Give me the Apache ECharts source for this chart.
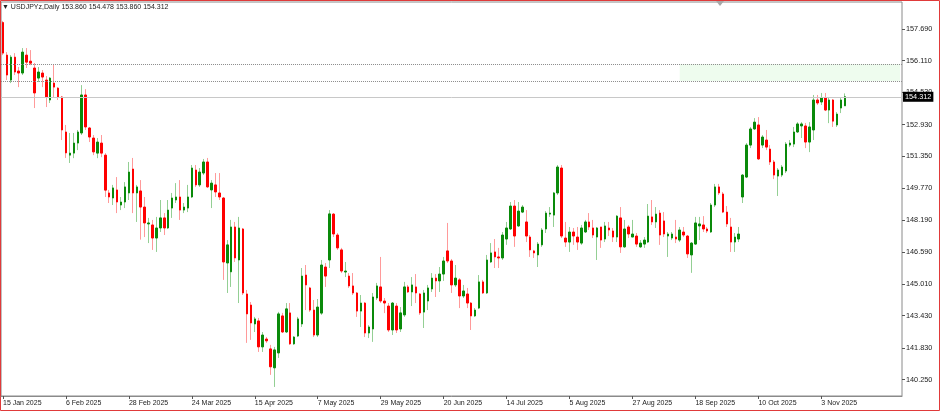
<!DOCTYPE html>
<html><head><meta charset="utf-8">
<script src="https://cdn.jsdelivr.net/npm/echarts@6/dist/echarts.min.js"></script>
<style>html,body{margin:0;padding:0;background:#fff}#c{width:940px;height:411px}</style>
</head><body><div id="c"></div>
<script>
const symbolName = 'USDJPYz,Daily';
const opens = [158.00,156.38,155.14,156.28,155.59,155.49,156.38,156.08,155.74,155.24,155.49,155.14,154.15,154.99,154.74,154.30,152.56,151.41,151.51,152.01,
152.51,154.40,152.76,152.26,151.51,152.01,151.41,149.53,149.28,149.68,148.93,149.08,149.53,150.72,149.53,149.63,148.83,147.99,147.94,147.29,
147.79,148.29,147.79,148.78,149.18,149.33,148.68,148.78,149.33,150.67,149.93,150.52,151.07,149.68,149.93,149.53,149.28,146.05,145.61,147.84,
146.20,147.74,144.51,143.96,143.02,143.17,141.88,142.27,141.78,140.84,141.58,143.42,142.62,143.57,142.03,142.42,143.02,145.45,144.81,143.71,
142.47,143.56,145.85,146.20,148.48,147.44,146.70,145.60,145.40,144.91,144.56,143.66,144.06,142.57,142.77,144.31,144.86,144.16,143.91,142.72,
143.91,142.77,143.47,144.86,144.61,144.86,144.51,143.61,144.16,144.76,145.30,145.16,145.50,146.65,146.15,144.96,145.21,144.41,144.51,144.06,
143.42,143.81,145.11,144.56,146.10,146.60,146.35,146.30,147.24,147.74,148.88,147.89,148.58,148.09,147.34,146.65,146.45,146.95,147.74,148.48,
148.43,149.53,150.77,147.29,147.09,147.59,147.34,147.04,147.59,148.09,147.79,147.34,147.84,147.24,147.79,147.64,147.34,148.29,146.85,147.84,
147.34,147.39,146.85,146.99,147.09,148.34,148.09,148.53,148.14,147.39,147.29,147.34,147.19,147.59,147.39,146.45,146.99,147.89,147.94,147.74,
147.59,148.93,149.83,149.48,148.58,147.84,147.09,147.24,149.33,150.32,151.91,152.71,152.91,151.91,152.16,151.71,151.07,150.37,150.42,150.62,
151.91,151.96,152.56,152.86,152.86,152.06,152.66,154.15,154.05,154.25,153.65,154.15,152.91,153.75,153.860];
const highs = [158.08,156.53,156.38,156.48,155.79,156.73,156.73,156.63,155.99,155.79,155.64,155.34,155.29,155.89,154.79,154.35,152.91,152.51,152.51,152.66,
154.89,154.69,152.81,152.41,152.26,152.41,151.51,149.68,149.93,150.32,149.33,150.07,151.07,151.27,149.93,150.17,149.33,148.29,148.19,148.34,
149.18,148.53,149.18,149.53,150.02,150.17,149.03,149.93,150.92,150.92,150.77,151.22,151.27,150.17,150.52,150.52,149.33,147.19,148.19,148.09,
148.34,147.79,144.71,144.11,143.37,143.32,142.62,142.37,141.98,141.88,143.62,143.57,144.06,144.06,142.42,143.37,145.80,145.95,144.86,144.21,
144.26,146.20,146.05,148.68,148.53,147.54,146.80,146.10,145.55,145.55,144.61,144.46,144.11,142.96,144.56,145.06,146.35,144.31,144.06,144.11,
144.06,143.86,145.11,144.96,145.35,145.50,144.56,144.71,144.96,145.55,145.50,145.85,146.35,148.04,146.25,145.95,145.30,144.96,144.81,144.11,
143.81,145.45,145.21,146.45,147.04,147.24,146.80,147.59,148.09,149.08,149.18,149.08,148.93,148.68,147.44,146.70,147.09,147.79,148.63,148.83,
149.58,150.92,150.92,148.09,147.84,147.79,147.84,147.94,148.19,148.53,148.19,147.84,147.84,148.09,148.09,147.79,148.43,148.83,148.19,147.94,
148.19,147.54,147.19,147.34,148.98,149.18,148.83,148.68,148.58,147.59,147.59,148.19,147.84,147.84,147.44,147.09,148.34,148.34,148.38,147.84,
149.03,149.98,149.98,149.58,148.88,148.29,147.54,147.84,150.47,152.01,152.81,153.25,153.30,152.41,152.66,151.91,151.17,150.77,150.92,152.06,
152.16,152.81,153.05,153.05,153.01,153.05,154.40,154.40,154.50,154.50,154.30,154.20,153.55,154.25,154.478];
const lows = [156.38,155.14,154.99,155.39,154.79,155.39,155.74,155.88,153.75,155.04,154.79,153.80,154.00,154.30,154.15,152.16,151.27,151.02,151.26,151.66,
152.41,152.66,152.06,151.41,151.26,151.31,149.33,149.03,148.93,148.53,148.68,148.78,149.18,148.53,148.09,147.21,147.34,147.04,146.70,146.60,
147.59,147.44,147.74,148.29,149.03,148.19,148.53,148.58,149.28,149.83,149.83,150.42,149.78,148.78,149.33,149.18,145.21,144.56,144.86,146.10,
144.06,144.46,142.08,142.23,142.62,141.63,141.63,142.08,140.49,139.89,141.33,142.57,142.57,141.98,141.98,142.37,142.87,143.71,143.62,142.37,
142.37,143.47,144.86,145.80,147.34,146.70,145.55,145.35,144.81,144.46,143.37,142.87,142.37,142.32,142.13,144.21,144.06,143.56,142.62,142.47,
142.57,142.62,143.37,144.56,143.91,144.06,143.47,142.82,143.71,144.61,144.36,144.61,145.16,146.05,144.56,144.86,143.81,144.31,143.81,142.72,
143.37,143.76,144.51,144.51,146.05,145.80,145.80,146.20,146.95,147.69,146.85,147.84,148.53,147.09,146.35,146.30,145.85,146.85,147.54,148.34,
147.84,149.43,147.29,146.85,146.60,146.95,146.70,146.95,147.54,147.69,147.29,146.20,146.80,147.09,147.39,147.09,147.09,146.55,146.80,147.29,
147.34,146.85,146.80,146.80,147.04,147.94,147.79,146.95,147.34,146.35,147.19,147.04,147.09,147.34,146.30,145.56,146.95,147.19,147.59,147.54,
147.54,148.83,149.43,148.53,147.84,146.60,146.60,147.09,149.03,150.27,151.76,152.66,151.17,151.76,151.66,150.92,150.22,149.38,150.32,150.52,
151.81,151.81,152.51,152.26,151.76,151.56,152.16,153.90,153.90,153.60,153.00,152.81,152.81,153.50,153.860];
const closes = [156.48,155.39,156.28,155.54,155.49,156.53,156.03,155.98,154.50,155.54,155.29,154.30,155.24,154.79,154.30,152.66,151.52,151.51,152.01,152.56,
154.40,152.81,152.31,151.57,152.06,151.51,149.67,149.33,149.78,149.08,149.08,149.83,150.57,149.53,149.83,148.83,148.04,148.04,147.29,147.79,
148.29,147.79,148.68,149.28,149.33,148.68,148.83,149.33,150.77,149.93,150.57,151.07,149.83,150.02,149.58,149.33,146.10,146.95,147.84,146.30,
147.79,144.56,143.52,143.07,143.27,141.88,142.47,142.18,140.89,141.73,143.52,142.62,143.77,142.03,142.37,143.27,145.40,144.96,143.71,142.47,
143.86,145.95,145.40,148.49,147.49,146.80,145.65,145.65,144.91,144.56,143.66,144.06,142.57,142.87,144.36,144.91,144.16,144.06,142.72,144.06,
142.72,143.57,144.86,144.61,144.96,144.56,143.57,144.56,144.81,145.30,145.16,145.50,146.15,146.15,144.96,145.30,144.41,144.66,144.06,143.42,
143.71,145.11,144.56,146.20,146.55,146.35,146.30,147.44,147.79,148.88,147.39,148.63,148.83,147.39,146.70,146.55,146.99,147.69,148.53,148.53,
149.53,150.82,147.39,147.09,147.59,147.39,147.09,147.79,148.09,147.84,147.44,147.79,147.19,147.89,147.69,147.34,148.38,146.85,147.74,147.49,
147.49,146.99,147.04,147.19,148.38,148.09,148.48,147.44,147.49,147.49,147.49,147.24,147.69,147.44,146.50,147.04,148.04,147.99,147.74,147.64,
148.93,149.83,149.53,148.58,147.99,147.09,147.34,147.49,150.42,151.91,152.71,153.05,151.22,152.31,151.81,151.07,150.42,150.67,150.82,151.96,
152.01,152.56,152.96,152.96,152.06,152.81,154.15,154.00,154.25,153.65,154.15,153.10,153.45,154.15,154.312];
const priceTicks = [140.250,141.830,143.430,145.010,146.590,148.190,149.770,151.350,152.930,154.530,156.110,157.690];
const dateTickLabels = ['15 Jan 2025','6 Feb 2025','28 Feb 2025','24 Mar 2025','15 Apr 2025','7 May 2025','29 May 2025','20 Jun 2025','14 Jul 2025','5 Aug 2025','27 Aug 2025','18 Sep 2025','10 Oct 2025','3 Nov 2025'];
const levelLines = [155.94, 155.09];
const zoneStartIndex = 172;
const totalSlots = 229;
const labelEvery = 16;

// categories: weekday trading days starting 15 Jan 2025
const categories = [];
{
  const d = new Date(Date.UTC(2025, 0, 15));
  while (categories.length < totalSlots) {
    const wd = d.getUTCDay();
    if (wd !== 0 && wd !== 6) categories.push(d.toISOString().slice(0, 10));
    d.setUTCDate(d.getUTCDate() + 1);
  }
}
const n = closes.length;
const wickData = [], bodyData = [];
for (let i = 0; i < n; i++) {
  wickData.push([opens[i], closes[i], lows[i], highs[i]]);
  bodyData.push([opens[i], closes[i], Math.min(opens[i], closes[i]), Math.max(opens[i], closes[i])]);
}
const last = n - 1;
const headerText = '\u25BC ' + symbolName + ' ' + opens[last].toFixed(3) + ' ' + highs[last].toFixed(3) + ' ' + lows[last].toFixed(3) + ' ' + closes[last].toFixed(3);
const FONT = 'Liberation Sans, Arial, DejaVu Sans, sans-serif';

const chart = echarts.init(document.getElementById('c'), null, { renderer: 'canvas' });
chart.setOption({
  animation: false,
  backgroundColor: '#ffffff',
  title: {
    text: headerText, left: 2, top: 4, padding: 0,
    textStyle: { fontSize: 7, fontWeight: 'normal', color: '#222', fontFamily: FONT }
  },
  grid: { left: 1, right: 38, top: 2, bottom: 15, show: true, borderColor: '#8a8a8a', borderWidth: 1, backgroundColor: '#fff' },
  xAxis: {
    type: 'category', data: categories, boundaryGap: true,
    axisLine: { show: true, lineStyle: { color: '#8a8a8a' } },
    axisTick: { show: true, alignWithLabel: true, length: 3, lineStyle: { color: '#555' },
      interval: (i) => i % labelEvery === 0 && i < n },
    axisLabel: {
      interval: (i) => i % labelEvery === 0 && i < n,
      align: 'left', margin: 4, fontSize: 7, color: '#222', fontFamily: FONT,
      formatter: (v, i) => dateTickLabels[i / labelEvery] || ''
    },
    splitLine: { show: false }
  },
  yAxis: {
    type: 'value', position: 'right', min: 139.44, max: 159.02, scale: true,
    axisLine: { show: false },
    splitLine: { show: false },
    axisTick: { show: true, length: 3, inside: false, lineStyle: { color: '#555' }, customValues: priceTicks },
    axisLabel: { customValues: priceTicks, formatter: (v) => v.toFixed(3), fontSize: 7.3, color: '#222', fontFamily: FONT, margin: 4 }
  },
  series: [
    {
      name: 'wick', type: 'candlestick', data: wickData, barWidth: 1,
      itemStyle: { color: '#94cf94', color0: '#ff9a9a', borderColor: '#94cf94', borderColor0: '#ff9a9a', borderWidth: 1 },
      markArea: {
        silent: true,
        itemStyle: { color: '#eefcee' },
        data: [[{ xAxis: categories[zoneStartIndex], yAxis: levelLines[0] }, { xAxis: categories[totalSlots - 1], yAxis: levelLines[1] }]]
      },
      markLine: {
        silent: true, symbol: 'none', animation: false,
        data: [
          { yAxis: levelLines[0], lineStyle: { color: '#8c8c8c', type: [1, 1], width: 1 }, label: { show: false } },
          { yAxis: levelLines[1], lineStyle: { color: '#8c8c8c', type: [1, 1], width: 1 }, label: { show: false } },
          { yAxis: closes[last], lineStyle: { color: '#c8c8c8', type: 'solid', width: 1 },
            label: { show: true, position: 'end', distance: 1, formatter: closes[last].toFixed(3),
              backgroundColor: '#000', color: '#fff', fontSize: 7.3, fontFamily: FONT, padding: [2, 2, 1, 2] } }
        ]
      }
    },
    {
      name: 'body', type: 'candlestick', data: bodyData, barWidth: 2,
      itemStyle: { color: '#0a8a0a', color0: '#ff0000', borderColor: '#0a8a0a', borderColor0: '#ff0000', borderWidth: 1 }
    }
  ],
  graphic: [
    { type: 'rect', shape: { x: 0.5, y: 0.5, width: 939, height: 410 }, style: { fill: 'none', stroke: '#e03a3a', lineWidth: 1 }, silent: true },
    { type: 'polygon', shape: { points: [[716, 1], [724, 1], [720, 6]] }, style: { fill: '#a8a8a8' }, silent: true }
  ]
});
</script></body></html>
